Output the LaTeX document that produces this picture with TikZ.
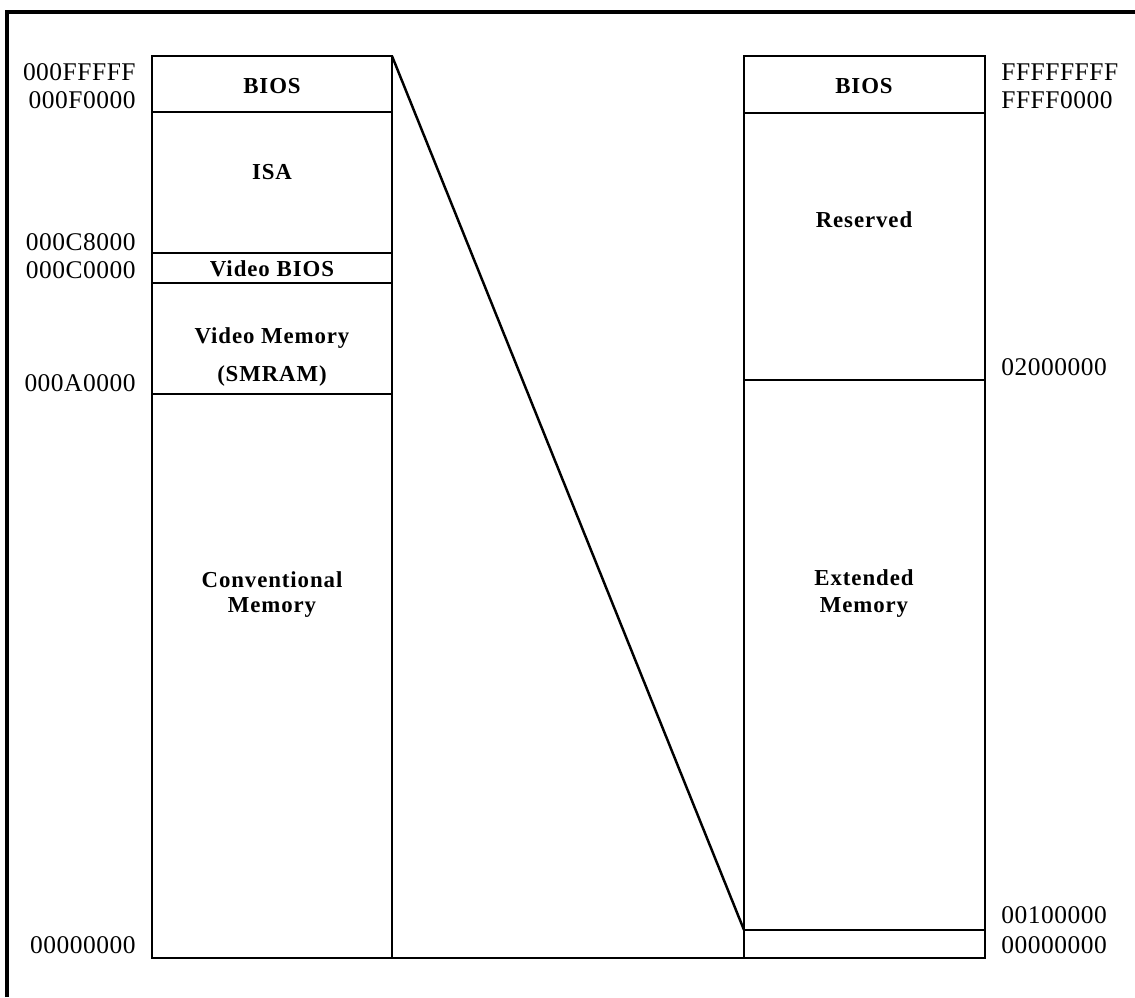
\documentclass[tikz,border=0pt]{standalone}
\usepackage{fontspec}
\setmainfont{Liberation Serif}
\newfontfamily\regionfont{Liberation Serif}[LetterSpace=4]
\newfontfamily\addrfont{Liberation Serif}[LetterSpace=2]
\begin{document}
\begin{tikzpicture}[x=0.02cm, y=-0.02cm,
    region/.style={draw, line width=1.4pt},
    rname/.style={font=\regionfont\bfseries\fontsize{13}{15}\selectfont, align=center},
    addrleft/.style={anchor=east, inner sep=0pt, font=\addrfont\fontsize{14.5}{16}\selectfont},
    addrright/.style={anchor=west, inner sep=0pt, font=\addrfont\fontsize{14.5}{16}\selectfont}]
    \useasboundingbox (0,0) rectangle (1135,997);
    % frame
    \draw[line width=2.5pt] (7,997) -- (7,12) -- (1135,12);
    % low 1 MB
    \coordinate (lowtl) at (152,56);
    \coordinate (lowtr) at (392,56);
    \coordinate (lowbl) at (152,958);
    \coordinate (lowbr) at (392,958);
    \draw[region] (lowtl) rectangle (lowbr);
    \draw[region] (152,112) -- (392,112);
    \draw[region] (152,253) -- (392,253);
    \draw[region] (152,283) -- (392,283);
    \draw[region] (152,394) -- (392,394);
    \node[rname] (lowbios) at (272,86) {BIOS};
    \node[rname] (isa) at (272,172) {ISA};
    \node[rname] (vbios) at (272,269) {Video\hspace{0.3em}BIOS};
    \node[rname] (vmem) at (272,338) {Video Memory};
    \node[rname] (smram) at (272,376) {(SMRAM)};
    \node[rname] (conv) at (272,580) {Conventional};
    \node[rname] (convmem) at (272,607) {Memory};
    % full 4 GB
    \coordinate (hightl) at (744,56);
    \coordinate (highbr) at (985,958);
    \coordinate (highbl) at (744,958);
    \coordinate (extbase) at (744,930);
    \draw[region] (hightl) rectangle (highbr);
    \draw[region] (744,113) -- (985,113);
    \draw[region] (744,380) -- (985,380);
    \draw[region] (extbase) -- (985,930);
    \node[rname] (highbios) at (864,86) {BIOS};
    \node[rname] (resv) at (864,220) {Reserved};
    \node[rname] (ext) at (864,578) {Extended};
    \node[rname] (extmem) at (864,607) {Memory};
    % zoom lines
    \draw[region] (lowtr) -- (extbase);
    \draw[region] (lowbr) -- (highbl);
    % addresses
    \node[addrleft] (a1) at (136,72) {000FFFFF};
    \node[addrleft] (a2) at (136,100) {000F0000};
    \node[addrleft] (a3) at (136,242) {000C8000};
    \node[addrleft] (a4) at (136,270) {000C0000};
    \node[addrleft] (a5) at (136,383) {000A0000};
    \node[addrleft] (a6) at (136,945) {00000000};
    \node[addrright] (b1) at (1001,72) {FFFFFFFF};
    \node[addrright] (b2) at (1001,100) {FFFF0000};
    \node[addrright] (b3) at (1001,367) {02000000};
    \node[addrright] (b4) at (1001,915) {00100000};
    \node[addrright] (b5) at (1001,945) {00000000};
\end{tikzpicture}
\end{document}
